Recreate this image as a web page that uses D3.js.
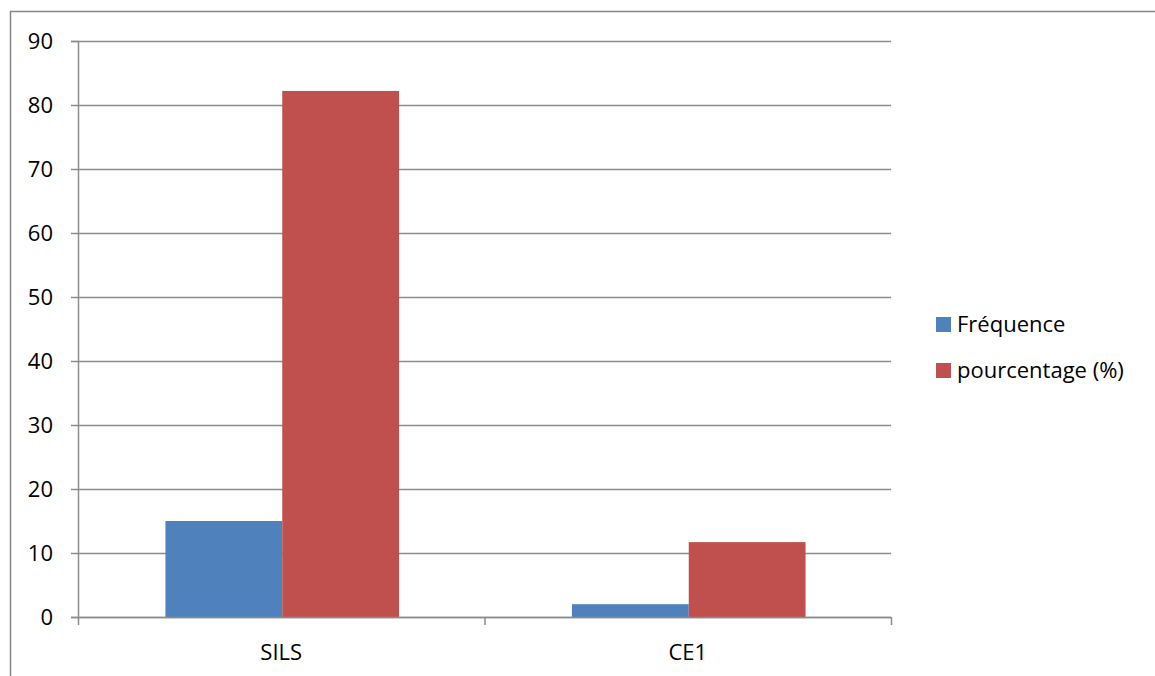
<!DOCTYPE html>
<html>
<head>
<meta charset="utf-8">
<script src="https://cdn.jsdelivr.net/npm/d3@7"></script>
<style>
  body { margin: 0; background: #fff; }
  text { font-family: "Open Sans", "Noto Sans", sans-serif; fill: #000; }
</style>
</head>
<body>
<svg id="chart" width="1155" height="676"></svg>
<script>
// chart values
var categories = ["SILS", "CE1"];
var seriesNames = ["Fréquence", "pourcentage (%)"];
var frequence = [15, 2];
var pourcentage = [82.2, 11.7];
var yTicks = [0, 10, 20, 30, 40, 50, 60, 70, 80, 90];
var colors = ["#4F81BD", "#C0504D"];

const margin = {top: 41, left: 78, right: 264, bottom: 59};
var width = 1155 - margin.left - margin.right;
var height = 676 - margin.top - margin.bottom;
var fontSize = "22px";

var svg = d3.select("#chart");

// outer chart border (cut at right/bottom like the source)
svg.append("line").attr("x1", 10).attr("x2", 1155).attr("y1", 11.5).attr("y2", 11.5)
    .attr("stroke", "#868686").attr("stroke-width", 1.5);
svg.append("line").attr("x1", 10.5).attr("x2", 10.5).attr("y1", 11).attr("y2", 676)
    .attr("stroke", "#868686").attr("stroke-width", 1.5);

var g = svg.append("g").attr("transform", "translate(" + margin.left + "," + margin.top + ")");

var x0 = d3.scaleBand().domain(categories).range([0, width]).paddingInner(0).paddingOuter(0);
var x1 = d3.scaleBand().domain(seriesNames)
    .range([0, x0.bandwidth()]).paddingInner(0).paddingOuter(0.74);
var y = d3.scaleLinear().domain([0, 90]).range([height, 0]);

// gridlines
g.selectAll(".grid").data(yTicks).enter().append("line")
    .attr("x1", 0).attr("x2", width)
    .attr("y1", d => Math.round(y(d)) + 0.5).attr("y2", d => Math.round(y(d)) + 0.5)
    .attr("stroke", "#8c8c8c").attr("stroke-width", 1.5);

// bars
var rows = categories.map((c, i) => ({cat: c, vals: [frequence[i], pourcentage[i]]}));
var cg = g.selectAll(".cat").data(rows).enter().append("g")
    .attr("transform", d => "translate(" + (x0(d.cat) + 1) + ",0)");
cg.selectAll("rect").data(d => d.vals.map((v, j) => ({name: seriesNames[j], v: v, j: j})))
    .enter().append("rect")
    .attr("x", d => x1(d.name))
    .attr("width", x1.bandwidth())
    .attr("y", d => y(d.v))
    .attr("height", d => y(0) - y(d.v))
    .attr("fill", d => colors[d.j]);

// y axis
var yAxis = d3.axisLeft(y).tickValues(yTicks).tickSize(7).tickPadding(18);
var ya = g.append("g").call(yAxis);
ya.select(".domain").attr("stroke", "#8c8c8c").attr("stroke-width", 1.5);
ya.selectAll(".tick line").attr("stroke", "#8c8c8c").attr("stroke-width", 1.5);
ya.selectAll("text").style("font-size", fontSize).attr("dy", "0.35em");

// x axis
var boundaries = [0].concat(categories.map(c => x0(c) + x0.bandwidth()));
var xa = g.append("g").attr("transform", "translate(0," + height + ")");
xa.append("line").attr("x1", 0).attr("x2", width).attr("y1", 0.5).attr("y2", 0.5)
    .attr("stroke", "#8c8c8c").attr("stroke-width", 1.5);
xa.selectAll(".xt").data(boundaries).enter().append("line")
    .attr("x1", d => d + 0.5).attr("x2", d => d + 0.5).attr("y1", 0).attr("y2", 8)
    .attr("stroke", "#8c8c8c").attr("stroke-width", 1.5);
xa.selectAll(".xl").data(categories).enter().append("text")
    .attr("x", d => x0(d) + x0.bandwidth() / 2)
    .attr("y", 43)
    .attr("text-anchor", "middle")
    .style("font-size", fontSize)
    .text(d => d);

// legend
var lg = svg.append("g").attr("transform", "translate(936,317)");
var items = lg.selectAll(".li").data(seriesNames).enter().append("g")
    .attr("transform", (d, i) => "translate(0," + (i * 46) + ")");
items.append("rect").attr("width", 15).attr("height", 15).attr("fill", (d, i) => colors[i]);
items.append("text").attr("x", 21).attr("y", 15)
    .style("font-size", fontSize).text(d => d);
</script>
</body>
</html>
